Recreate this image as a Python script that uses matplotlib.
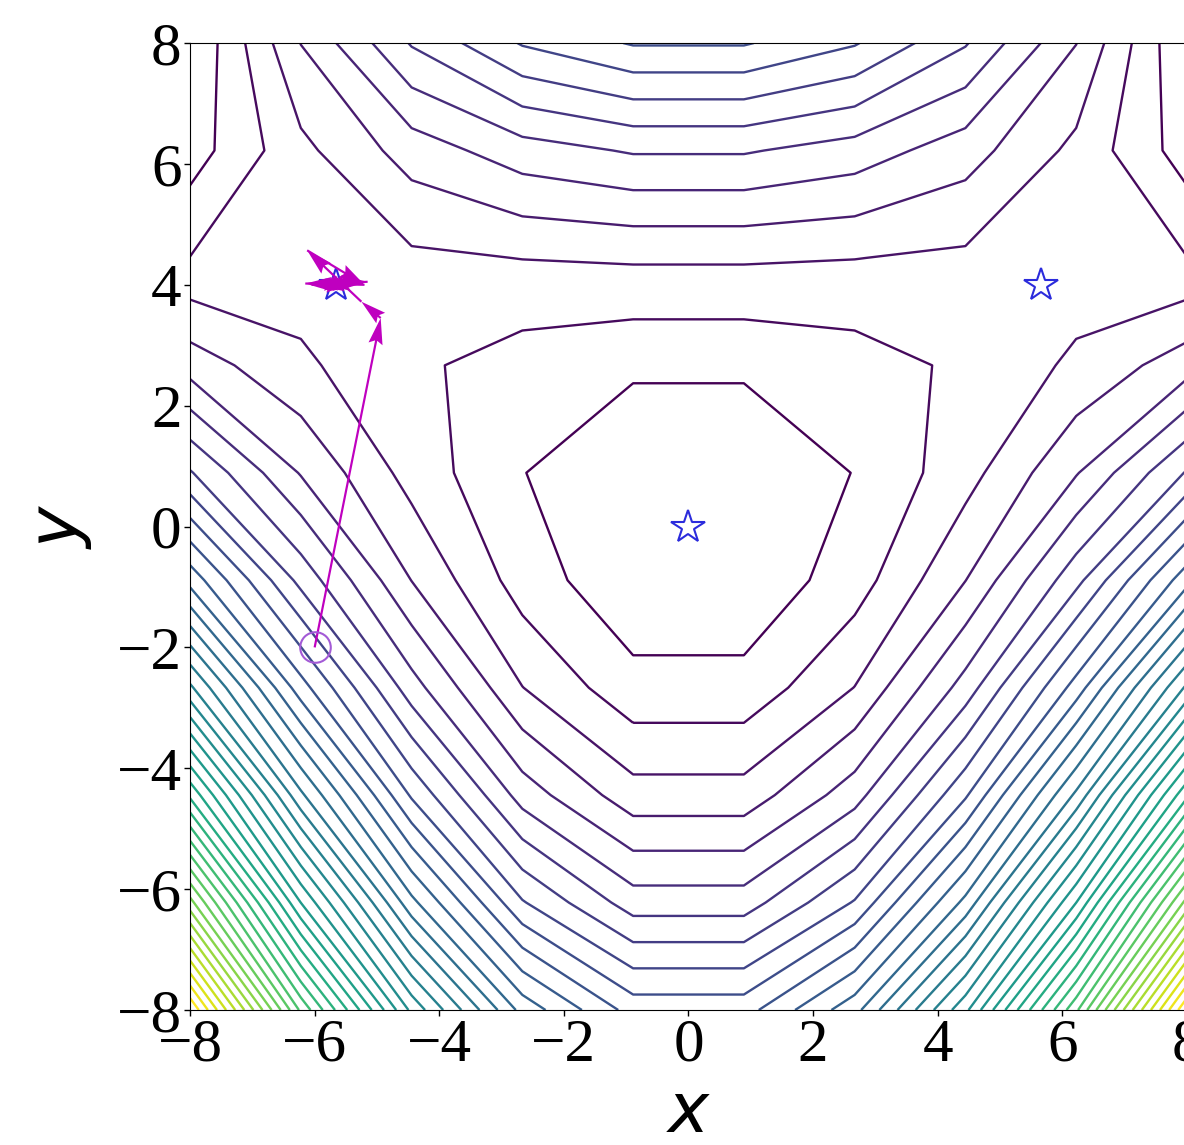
import matplotlib
matplotlib.use("Agg")
import matplotlib.pyplot as plt
import numpy as np

# grid the surface was sampled on
grid_x = [-8, -6.222, -4.444, -2.667, -0.889, 0.889, 2.667, 4.444, 6.222, 8]
grid_y = [-8, -6.222, -4.444, -2.667, -0.889, 0.889, 2.667, 4.444, 6.222, 8]

# surface values on the grid (rows = y from -8 up to 8), in units of one contour step
z_rows = [
    [40.96, 28.79, 19.74, 13.64, 10.59, 10.59, 13.64, 19.74, 28.79, 40.96],
    [32.36, 21.99, 14.29, 9.09, 6.49, 6.49, 9.09, 14.29, 21.99, 32.36],
    [24.78, 16.21, 9.85, 5.55, 3.40, 3.40, 5.55, 9.85, 16.21, 24.78],
    [18.20, 11.43, 6.42, 3.02, 1.32, 1.32, 3.02, 6.42, 11.43, 18.20],
    [12.64, 7.67, 3.98, 1.51, 0.26, 0.26, 1.51, 3.98, 7.67, 12.64],
    [8.09, 4.92, 2.60, 1.03, 0.20, 0.20, 1.03, 2.60, 4.92, 8.09],
    [4.55, 3.18, 2.21, 1.51, 1.16, 1.16, 1.51, 2.21, 3.18, 4.55],
    [2.02, 2.45, 2.82, 3.02, 3.12, 3.12, 3.02, 2.82, 2.45, 2.02],
    [0.51, 2.73, 4.45, 5.55, 6.10, 6.10, 5.55, 4.45, 2.73, 0.51],
    [0.00, 4.02, 7.09, 9.09, 10.09, 10.09, 9.09, 7.09, 4.02, 0.00],
]
levels = np.arange(1, 41)

# modes (stars)
modes_x = [0.0, -5.657, 5.657]
modes_y = [0.0, 4.0, 4.0]

# optimiser path
path_x = [-6.0, -4.94, -5.25, -6.12, -5.2, -6.15, -5.15, -6.05, -5.3, -5.95,
          -5.4, -5.85, -5.5, -5.75, -5.62]
path_y = [-2.0, 3.45, 3.72, 4.57, 4.0, 4.02, 4.05, 4.0, 4.03, 3.98,
          4.02, 4.0, 4.0, 4.0, 4.0]

X, Y = np.meshgrid(grid_x, grid_y)
Z = np.array(z_rows)

fig = plt.figure(figsize=(11.84, 11.45), dpi=100)
ax = fig.add_axes([0.1605, 0.1179, 0.842, 0.8445])

ax.contour(X, Y, Z, levels=levels, cmap="viridis", linewidths=1.7)

px = np.array(path_x)
py = np.array(path_y)
ax.quiver(px[:-1], py[:-1], px[1:] - px[:-1], py[1:] - py[:-1],
          angles="xy", scale_units="xy", scale=1, color="m",
          width=0.0022, headwidth=6.5, headlength=12, headaxislength=10.5,
          zorder=4)
ax.plot(px[0], py[0], "o", mfc="none", mec="#a35ad6", ms=22, mew=1.5, zorder=5)
ax.plot(modes_x, modes_y, "*", mfc="white", mec="#2b2bdc", ms=25, mew=1.5,
        linestyle="none", zorder=3)

ax.set_xlim(-8, 8)
ax.set_ylim(-8, 8)
ax.set_xticks([-8, -6, -4, -2, 0, 2, 4, 6, 8])
ax.set_yticks([-8, -6, -4, -2, 0, 2, 4, 6, 8])
for lab in ax.get_xticklabels() + ax.get_yticklabels():
    lab.set_fontfamily("Liberation Serif")
    lab.set_fontsize(44)
ax.tick_params(length=4, width=1, pad=2)
ax.set_xlabel(r"$x$", fontsize=50, labelpad=4)
ax.set_ylabel(r"$y$", fontsize=50, labelpad=16)

fig.savefig("out.png", dpi=100)
